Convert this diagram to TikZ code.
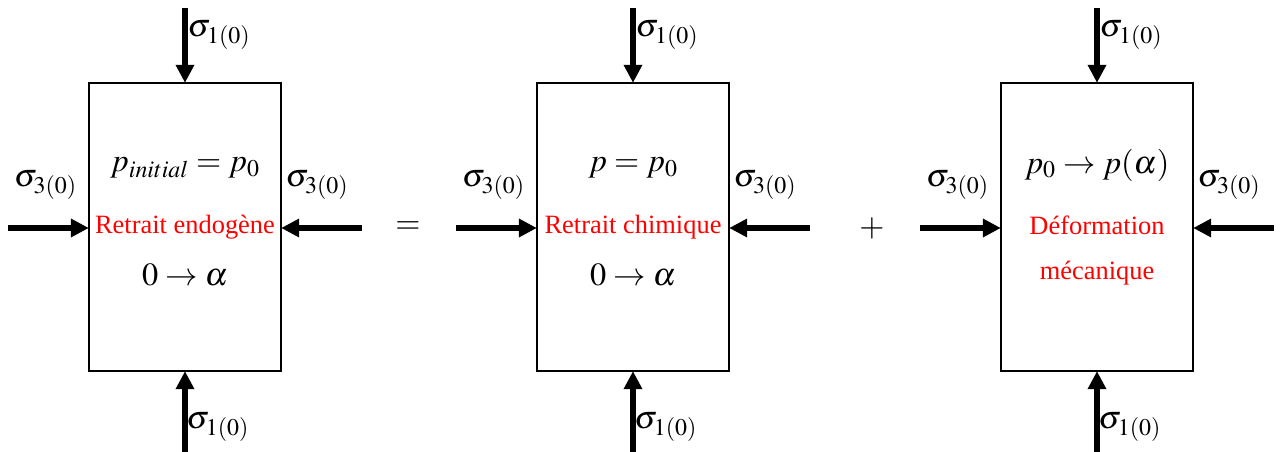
\documentclass[tikz,border=0pt]{standalone}
\usepackage{mathptmx}
\usepackage[no-math]{fontspec}
\setmainfont{Liberation Serif}
\usepackage{tikz}
\usetikzlibrary{positioning,arrows.meta}
\usepackage{xcolor}

\tikzset{
  cell/.style={draw,line width=1.4pt,minimum width=4.8cm,minimum height=7.2cm,inner sep=0pt},
  load/.style={line width=3.8pt,-{Triangle[length=0.45cm,width=0.44cm]},shorten >=-0.6pt},
  eq/.style={font=\fontsize{23}{27}\selectfont,inner sep=1pt},
  note/.style={text=red,font=\fontsize{18.8}{22}\selectfont,inner sep=1pt},
}

\begin{document}
\begin{tikzpicture}
\useasboundingbox (0,0) rectangle (32,11.275);
\node[cell] (A) at (4.625,5.6) {};
\node[cell] (B) at (15.825,5.6) {};
\node[cell] (C) at (27.425,5.6) {};
% loads on each block
\foreach \b in {A,B,C}{
  \coordinate (\b top) at ([yshift=1.85cm]\b.north);
  \coordinate (\b bot) at ([yshift=-2.0cm]\b.south);
  \coordinate (\b lft) at ([xshift=-2.0cm,yshift=-0.025cm]\b.west);
  \coordinate (\b rgt) at ([xshift=2.0cm,yshift=-0.025cm]\b.east);
  \draw[load] (\b top) -- (\b.north);
  \draw[load] (\b bot) -- (\b.south);
  \draw[load] (\b lft) -- ([yshift=-0.025cm]\b.west);
  \draw[load] (\b rgt) -- ([yshift=-0.025cm]\b.east);
  \node[eq] (\b s1t) at ([xshift=0.85cm,yshift=4.8cm]\b.center) {$\sigma_{1(0)}$};
  \node[eq] (\b s1b) at ([xshift=0.82cm,yshift=-5.0cm]\b.center) {$\sigma_{1(0)}$};
  \node[eq] (\b s3l) at ([xshift=-3.49cm,yshift=1.05cm]\b.center) {$\sigma_{3(0)}$};
  \node[eq] (\b s3r) at ([xshift=3.3cm,yshift=1.05cm]\b.center) {$\sigma_{3(0)}$};
}
% block contents
\node[eq] (Aa) at ([yshift=1.475cm]A.center) {$p_{initial}=p_0$};
\node[note] (Ab) at (A.center) {Retrait endogène};
\node[eq] (Ac) at ([yshift=-1.2cm]A.center) {$0\to\alpha$};
\node[eq] (Ba) at ([yshift=1.475cm]B.center) {$p=p_0$};
\node[note] (Bb) at (B.center) {Retrait chimique};
\node[eq] (Bc) at ([yshift=-1.2cm]B.center) {$0\to\alpha$};
\node[eq] (Ca) at ([yshift=1.55cm]C.center) {$p_0\to p(\alpha)$};
\node[note] (Cb) at ([yshift=0.05cm]C.center) {Déformation};
\node[note] (Cc) at ([yshift=-1.15cm]C.center) {mécanique};
% operators
\node[eq] (eqsign) at (10.2,5.575) {$=$};
\node[eq] (plus) at (21.8,5.575) {$+$};
\end{tikzpicture}
\end{document}
